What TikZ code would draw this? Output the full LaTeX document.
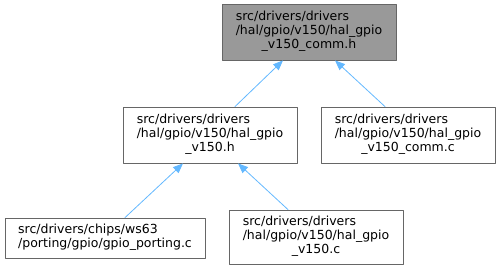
\documentclass[tikz,border=0pt]{standalone}
\usepackage{fontspec}
\setmainfont{DejaVu Sans}
\usetikzlibrary{arrows.meta}

\definecolor{edgeblue}{HTML}{63B8FF}
\definecolor{boxgray}{HTML}{666666}
\definecolor{rootgray}{HTML}{999999}

% three-line label: two left lines, last line centred
\newcommand{\fileThree}[3]{\begin{tabular}{@{}l@{}}#1\\#2\\\multicolumn{1}{@{}c@{}}{#3}\end{tabular}}
\newcommand{\fileTwo}[2]{\begin{tabular}{@{}l@{}}#1\\#2\end{tabular}}

\tikzset{
  filebox/.style={draw=boxgray, fill=white, line width=0.8pt, inner sep=0pt,
    font=\fontsize{12.5}{14}\selectfont},
  rootbox/.style={filebox, fill=rootgray},
  incl/.style={draw=edgeblue, line width=0.8pt, -{Triangle[length=10pt,width=8pt]}}
}

\begin{document}
\begin{tikzpicture}[x=1pt, y=1pt, line cap=round, line join=round]
  \useasboundingbox (0,0) rectangle (500,271);

  % Boxes of the include graph
  \node[rootbox, minimum width=174pt, minimum height=56pt] (comm) at (309,239)
    {\fileThree{src/drivers/drivers}{/hal/gpio/v150/hal\_gpio}{\_v150\_comm.h}};
  \node[filebox, minimum width=174pt, minimum height=56pt] (hal) at (210,136)
    {\fileThree{src/drivers/drivers}{/hal/gpio/v150/hal\_gpio}{\_v150.h}};
  \node[filebox, minimum width=174pt, minimum height=56pt] (commc) at (408,136)
    {\fileThree{src/drivers/drivers}{/hal/gpio/v150/hal\_gpio}{\_v150\_comm.c}};
  \node[filebox, minimum width=200pt, minimum height=40pt] (porting) at (105,33)
    {\fileTwo{src/drivers/chips/ws63}{/porting/gpio/gpio\_porting.c}};
  \node[filebox, minimum width=174pt, minimum height=54pt] (halc) at (316,34)
    {\fileThree{src/drivers/drivers}{/hal/gpio/v150/hal\_gpio}{\_v150.c}};

  % Include edges, arrow on the included file
  \draw[incl] ([xshift=25pt]hal.north) -- ([xshift=-26pt]comm.south);
  \draw[incl] ([xshift=-23pt]commc.north) -- ([xshift=26pt]comm.south);
  \draw[incl] ([xshift=20pt]porting.north) -- ([xshift=-27pt]hal.south);
  \draw[incl] ([xshift=-28pt]halc.north) -- ([xshift=28pt]hal.south);
\end{tikzpicture}
\end{document}
